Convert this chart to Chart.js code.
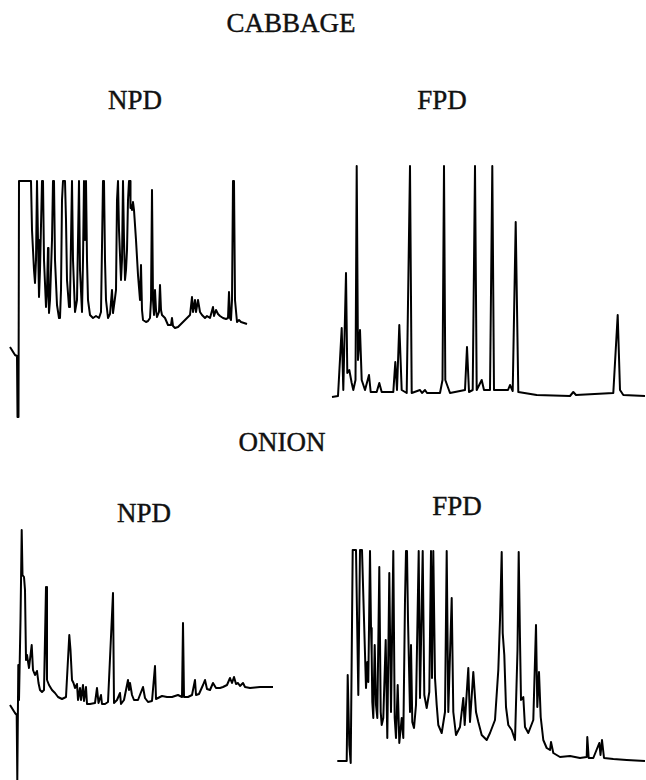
<!DOCTYPE html>
<html>
<head>
<meta charset="utf-8">
<script src="https://cdn.jsdelivr.net/npm/chart.js@4"></script>
<style>
body{margin:0;background:#fff;width:646px;height:780px;position:relative;overflow:hidden;font-family:"Liberation Serif","DejaVu Serif",serif;}
.t{position:absolute;width:200px;text-align:center;font-size:27px;line-height:27px;color:#111;-webkit-text-stroke:0.4px #111;}
canvas{position:absolute;}
</style>
</head>
<body>
<div class="t" style="left:191px;top:10px">CABBAGE</div>
<div class="t" style="left:35px;top:87px">NPD</div>
<div class="t" style="left:342px;top:87px">FPD</div>
<div class="t" style="left:182px;top:429px">ONION</div>
<div class="t" style="left:44px;top:500px">NPD</div>
<div class="t" style="left:357px;top:493px">FPD</div>

<canvas id="cabNpd" width="242" height="242" style="left:8px;top:178px"></canvas>
<canvas id="cabFpd" width="316" height="236" style="left:330px;top:164px"></canvas>
<canvas id="onNpd" width="270" height="255" style="left:8px;top:525px"></canvas>
<canvas id="onFpd" width="311" height="217" style="left:335px;top:548px"></canvas>

<script>
// traces: [retention (arb.), response (arb.)]
var cabbageNpd = [[2,73],[7,65],[9,64],[9.5,3],[10.5,3],[11,239],[23,239],[24,190],[26,150],[27,137],[28,160],[29,239],[30,180],[31,123],[32,150],[34,239],[35,239],[36,160],[38,113],[39,130],[40,172],[40.5,130],[41,107],[42,120],[44,180],[45,239],[46,239],[47,160],[49,115],[51,102],[52,102],[53,130],[54,220],[55,239],[57,239],[58,200],[59,140],[61,113],[62,120],[64,239],[65,160],[67,108],[69,120],[71,239],[72,150],[74,108],[75,160],[76,239],[77,180],[78,239],[79,160],[80,120],[82,105],[85,102],[88,104],[91,102],[93,108],[95,239],[96,239],[97,160],[98,120],[100,102],[102,106],[104,130],[105,107],[107,122],[108,130],[109,220],[110,239],[111,190],[113,140],[114,160],[115,239],[116,180],[117,140],[118,150],[119,170],[120,220],[121,239],[122,239],[122.5,212],[123,215],[124,210],[125,218],[126,210],[128,180],[130,145],[132,120],[133,155],[134,110],[135,100],[138,98],[140,99],[142,102],[143,120],[144,230],[145,120],[146,105],[147,130],[148,110],[149,103],[151,108],[152,135],[153,110],[154,105],[157,102],[160,95],[163,95],[164,102],[165,94],[167,92],[170,93],[172,95],[176,99],[179,102],[182,105],[184,123],[185,108],[187,120],[188,108],[190,120],[192,108],[194,105],[197,102],[199,104],[202,102],[205,113],[206,104],[208,110],[210,106],[212,104],[215,102],[218,101],[220,102],[221,128],[222,102],[223,100],[224,120],[225,239],[226,239],[227,120],[229,98],[231,100],[233,98],[236,97],[239,96]];

var cabbageFpd = [[2,3],[8,4],[11.7,72],[13.3,10],[16,127],[17.3,27],[19.3,30],[21.7,17],[23.3,10],[25.5,20],[26.7,234],[28,40],[30,70],[31.7,20],[35,10],[39,25],[40.7,8],[46.7,8],[49.3,17],[51.7,8],[63.3,8],[65.3,38],[67,10],[69.3,75],[71.7,10],[76.7,7],[80,234],[81.7,7],[90,10],[92,7],[95,10],[97,7],[110,7],[112.5,20],[114,234],[115.3,20],[120,7],[135,10],[137,53],[139,8],[142.7,10],[145,234],[146.7,10],[151.7,20],[154,10],[160,10],[162.3,234],[164,10],[178,10],[180,15],[182.7,9],[185.7,178],[188.3,8],[206.7,5],[240,4],[243.3,8],[246,5],[283.3,7],[287.7,85],[290,10],[293.3,5],[315,4]];

var onionNpd = [[2,75],[7,67],[8.7,65],[9.3,0],[10.3,115],[11,80],[12.5,160],[13.7,250],[14.5,205],[16,203],[17,190],[18,120],[19,125],[21,112],[23.7,135],[25,110],[27,105],[29,109],[30.5,97],[32,90],[34,88],[36,90],[38,193],[39,100],[41,95],[44,90],[47,87],[50,83],[54,81],[58,83],[61.3,145],[62.5,130],[64,100],[65.5,97],[67,92],[69,96],[70,80],[72,92],[73,80],[75,95],[76,79],[78,93],[79,76],[82,76],[87,77],[89,92],[90.5,77],[93,85],[94,76],[97,76],[100,78],[105,187],[106,77],[109,80],[112,87],[113,76],[116,80],[120,100],[121,90],[122,97],[124,85],[126,80],[130,80],[135,93],[137,82],[140,78],[144,79],[147,114],[148,81],[150,82],[154,84],[159,83],[164,83],[170,85],[174,83],[175,157],[176,83],[180,83],[184,85],[187,100],[188,85],[191,86],[195,95],[197,100],[199,91],[202,90],[205,97],[208,92],[212,92],[215,93],[219,95],[222,102],[224,97],[226,103],[228,96],[230,97],[232,94],[235,97],[237,93],[242,92],[252,93],[265,93]];

var onionFpd = [[2.3,4],[11.7,4],[12.7,90],[14.3,20],[15.7,2],[17.7,215],[21,215],[23.3,70],[25,215],[27,215],[28.3,170],[31,77],[32.3,103],[33.3,83],[35,214],[36,137],[36.7,110],[37.3,63],[38.3,47],[39.7,120],[41,60],[42.3,47],[44.3,198],[45.7,53],[46.7,40],[48.3,47],[50.7,125],[52.3,27],[54.3,192],[56,53],[58.3,214],[59.7,47],[61,27],[62.7,80],[64.3,22],[66.7,47],[68.3,27],[70,165],[71,214],[72,214],[73,145],[75,53],[76,120],[77.3,43],[79,37],[81,60],[83.7,214],[85,67],[87.7,214],[89.3,70],[91.7,57],[94.3,73],[96,214],[97,87],[98.3,214],[100,87],[101.7,60],[103.3,40],[106.7,32],[110,53],[111.7,214],[113.3,53],[116.7,167],[118.3,53],[121,30],[125,38],[128.3,67],[129.7,40],[133.3,97],[135,43],[138.3,93],[141,53],[143.3,43],[146.7,30],[151.7,25],[155,32],[160,45],[163.3,95],[165,145],[166.7,213],[167.7,132],[169.3,110],[171,58],[173.3,40],[176.7,35],[180,25],[182.5,115],[183.7,213],[185,125],[186,65],[188.3,68],[190,38],[193.3,32],[198.3,45],[201,140],[202.3,58],[204,93],[205.7,48],[208.3,25],[211.7,17],[215,15],[216,23],[218.3,12],[225,8],[235,9],[245,7],[251.7,8],[252.3,28],[253.7,7],[258.3,7],[264.3,22],[265.5,10],[267,25],[269,7],[278.3,6],[291.7,5],[310,4]];

function drawTrace(id, pts, xMax, yMax){
  new Chart(document.getElementById(id), {
    type: 'line',
    data: {
      datasets: [{
        data: pts.map(function(p){ return {x: p[0], y: p[1]}; }),
        borderColor: '#000',
        borderWidth: 2,
        borderJoinStyle: 'round',
        pointRadius: 0,
        tension: 0,
        fill: false
      }]
    },
    options: {
      responsive: false,
      animation: false,
      layout: { padding: 0 },
      plugins: { legend: { display: false }, tooltip: { enabled: false } },
      scales: {
        x: { type: 'linear', display: false, min: 0, max: xMax },
        y: { display: false, min: 0, max: yMax }
      }
    }
  });
}

drawTrace('cabNpd', cabbageNpd, 242, 242);
drawTrace('cabFpd', cabbageFpd, 316, 236);
drawTrace('onNpd', onionNpd, 270, 255);
drawTrace('onFpd', onionFpd, 311, 217);
</script>
</body>
</html>
